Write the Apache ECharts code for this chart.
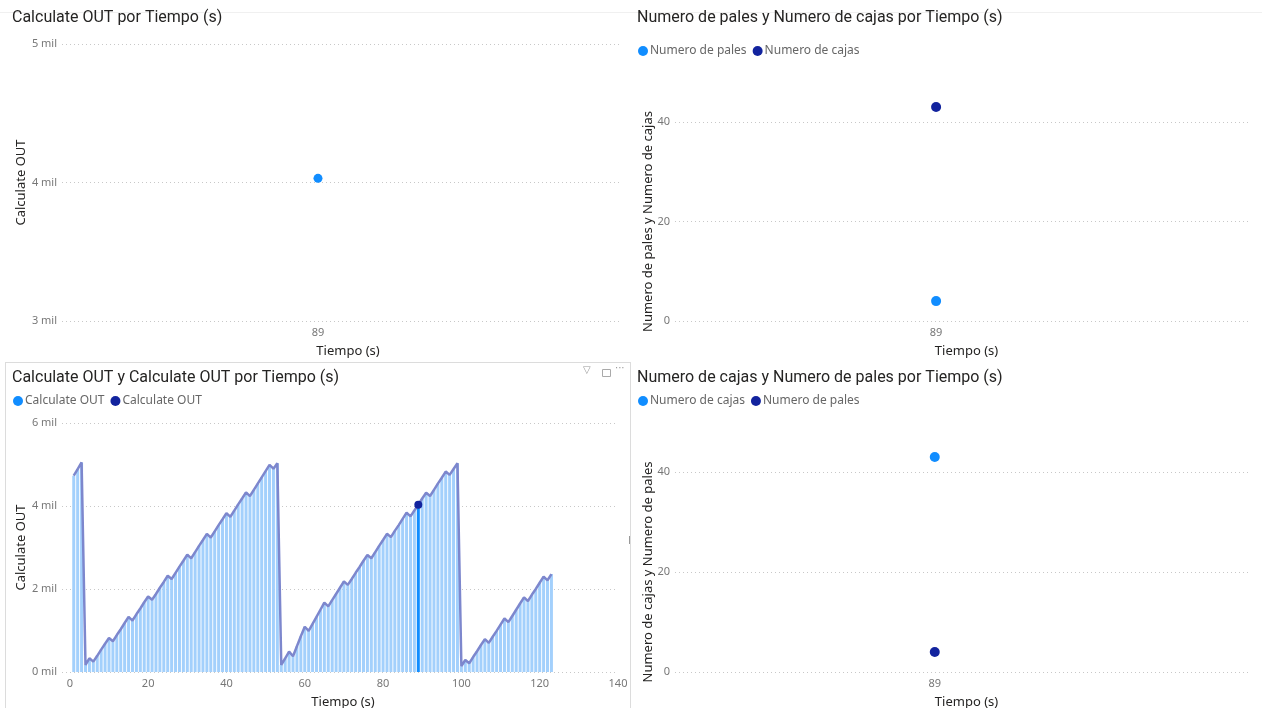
<!DOCTYPE html>
<html>
<head>
<meta charset="utf-8">
<script src="https://cdn.jsdelivr.net/npm/echarts@6/dist/echarts.min.js"></script>
<style>
  html, body { margin: 0; padding: 0; background: #fff; width: 1262px; height: 708px; overflow: hidden; }
  .panel { position: absolute; }
  #topRule { position: absolute; left: 0; top: 12px; width: 1262px; height: 1px; background: #f0f0f0; }
  #blFrame { position: absolute; left: 5px; top: 362px; width: 626px; height: 346px; border: 1px solid #dcdcdc; border-bottom: none; box-sizing: border-box; }
</style>
</head>
<body>
<div id="topRule"></div>
<div id="blFrame"></div>
<div id="tl" class="panel" style="left:0;top:0;width:631px;height:360px"></div>
<div id="tr" class="panel" style="left:631px;top:0;width:631px;height:360px"></div>
<div id="bl" class="panel" style="left:0;top:360px;width:631px;height:348px"></div>
<div id="br" class="panel" style="left:631px;top:360px;width:631px;height:348px"></div>
<script>
// Tiempo (s), one reading per second
const tiempo = [
  1, 2, 3, 4, 5, 6, 7, 8, 9, 10, 11, 12, 13, 14, 15, 16, 17, 18, 19, 20,
  21, 22, 23, 24, 25, 26, 27, 28, 29, 30, 31, 32, 33, 34, 35, 36, 37, 38, 39, 40,
  41, 42, 43, 44, 45, 46, 47, 48, 49, 50, 51, 52, 53, 54, 55, 56, 57, 58, 59, 60,
  61, 62, 63, 64, 65, 66, 67, 68, 69, 70, 71, 72, 73, 74, 75, 76, 77, 78, 79, 80,
  81, 82, 83, 84, 85, 86, 87, 88, 89, 90, 91, 92, 93, 94, 95, 96, 97, 98, 99, 100,
  101, 102, 103, 104, 105, 106, 107, 108, 109, 110, 111, 112, 113, 114, 115, 116, 117, 118, 119, 120,
  121, 122, 123
];

// Calculate OUT for each second
const calculateOut = [
  4730, 4890, 5050, 170, 330, 250, 390, 540, 680, 820,
  740, 890, 1030, 1180, 1330, 1240, 1390, 1530, 1680, 1820,
  1740, 1880, 2030, 2170, 2320, 2240, 2390, 2540, 2680, 2830,
  2740, 2890, 3040, 3180, 3330, 3240, 3390, 3540, 3680, 3830,
  3740, 3890, 4040, 4180, 4330, 4240, 4390, 4540, 4690, 4840,
  4990, 4900, 5030, 170, 330, 490, 380, 620, 860, 1090,
  990, 1160, 1330, 1500, 1670, 1580, 1730, 1880, 2030, 2180,
  2100, 2240, 2390, 2530, 2680, 2820, 2740, 2890, 3040, 3180,
  3330, 3250, 3400, 3540, 3690, 3840, 3750, 3890, 4030, 4180,
  4320, 4240, 4390, 4540, 4680, 4830, 4750, 4890, 5030, 140,
  290, 210, 360, 500, 650, 790, 700, 850, 990, 1140,
  1290, 1200, 1350, 1500, 1650, 1800, 1710, 1860, 2000, 2150,
  2300, 2210, 2360
];

// Selected second and its measures
const tiempoSel = 89;
const calculateOutSel = 4030;
const numeroCajasSel = 43;
const numeroPalesSel = 4;

// Axis tick values
const xTicksTiempo = [0, 20, 40, 60, 80, 100, 120, 140];
const xTicksSel = [89];

const BLUE = '#118DFF';
const NAVY = '#12239E';
const BAR_DIM = '#A3D0FC';
const LINE_DIM = '#7D87CD';
const TITLE_FONT = 'Roboto, "Noto Sans", sans-serif';
const LABEL_FONT = '"Noto Sans", "Open Sans", sans-serif';

function milLabel(v) { return (v / 1000) + ' mil'; }

function baseTitle(text, left) {
  return {
    text: text, left: left, top: 10, padding: 0,
    textStyle: { fontFamily: TITLE_FONT, fontSize: 16, fontWeight: 'normal', color: '#252423' }
  };
}

function baseLegend(left, top, names, colors) {
  return {
    left: left, top: top, padding: 0, itemGap: 6, itemWidth: 10, itemHeight: 10,
    icon: 'circle', selectedMode: false,
    textStyle: { fontFamily: LABEL_FONT, fontSize: 12, color: '#666', padding: [0, 0, 0, -3] },
    data: names.map(function (n, i) { return { name: n, itemStyle: { color: colors[i], opacity: 1 } }; })
  };
}

function grid(left, top, width, height) {
  return { left: left, top: top, width: width, height: height, outerBoundsMode: 'none' };
}

function valueY(min, max, interval, name, nameGap, fmt) {
  return {
    type: 'value', min: min, max: max, interval: interval,
    name: name, nameLocation: 'middle', nameGap: nameGap, nameMoveOverlap: false,
    nameTextStyle: { fontFamily: LABEL_FONT, fontSize: 13, color: '#252423' },
    axisLine: { show: false }, axisTick: { show: false },
    axisLabel: { fontFamily: LABEL_FONT, fontSize: 11, color: '#777', margin: 5, formatter: fmt },
    splitLine: { show: true, lineStyle: { type: [1, 3], color: '#c8c8c8', width: 1 } }
  };
}

// nameShift nudges the "Tiempo (s)" title to the right of the plot centre
function valueX(min, max, ticks, nameGap, margin, nameShift) {
  return {
    type: 'value', min: min, max: max,
    name: 'Tiempo (s)', nameLocation: 'middle', nameGap: nameGap, nameMoveOverlap: false,
    nameTextStyle: { fontFamily: LABEL_FONT, fontSize: 13, color: '#252423', padding: [0, 0, 0, nameShift * 2] },
    axisLine: { show: false }, axisTick: { show: false },
    splitLine: { show: false },
    axisLabel: { customValues: ticks, fontFamily: LABEL_FONT, fontSize: 11, color: '#777', margin: margin }
  };
}

// Calculate OUT at the selected second
const chartTL = echarts.init(document.getElementById('tl'));
chartTL.setOption({
  animation: false,
  title: baseTitle('Calculate OUT por Tiempo (s)', 12),
  grid: grid(62, 44, 558, 277),
  xAxis: valueX(0, 194, xTicksSel, 24, 6, 7),
  yAxis: valueY(3000, 5000, 1000, 'Calculate OUT', 34, milLabel),
  series: [{
    name: 'Calculate OUT', type: 'scatter', symbolSize: 9, clip: false,
    itemStyle: { color: BLUE, opacity: 1 },
    data: [[tiempoSel, calculateOutSel]]
  }]
});

// Numero de pales and Numero de cajas at the selected second
const chartTR = echarts.init(document.getElementById('tr'));
chartTR.setOption({
  animation: false,
  title: baseTitle('Numero de pales y Numero de cajas por Tiempo (s)', 6),
  legend: baseLegend(7, 45, ['Numero de pales', 'Numero de cajas'], [BLUE, NAVY]),
  grid: grid(44, 122, 575, 199),
  xAxis: valueX(0, 196, xTicksSel, 24, 6, 4),
  yAxis: valueY(0, 40, 20, 'Numero de pales y Numero de cajas', 20, null),
  series: [
    { name: 'Numero de pales', type: 'scatter', symbolSize: 10, clip: false,
      itemStyle: { color: BLUE, opacity: 1 }, data: [[tiempoSel, numeroPalesSel]] },
    { name: 'Numero de cajas', type: 'scatter', symbolSize: 10, clip: false,
      itemStyle: { color: NAVY, opacity: 1 }, data: [[tiempoSel, numeroCajasSel]] }
  ]
});

// Calculate OUT over time: columns plus line, second 89 highlighted
const barData = tiempo.map(function (t, i) {
  if (t === tiempoSel) return { value: [t, calculateOut[i]], itemStyle: { color: BLUE } };
  return [t, calculateOut[i]];
});
const lineData = tiempo.map(function (t, i) {
  if (t === tiempoSel) {
    return { value: [t, calculateOut[i]], symbol: 'circle', symbolSize: 8, itemStyle: { color: NAVY } };
  }
  return [t, calculateOut[i]];
});

const chartBL = echarts.init(document.getElementById('bl'));
chartBL.setOption({
  animation: false,
  title: baseTitle('Calculate OUT y Calculate OUT por Tiempo (s)', 12),
  legend: baseLegend(13, 35, ['Calculate OUT', 'Calculate OUT '], [BLUE, NAVY]),
  grid: grid(62, 63, 556, 249),
  xAxis: valueX(-2, 140, xTicksTiempo, 24, 6, 3),
  yAxis: valueY(0, 6000, 2000, 'Calculate OUT', 34, milLabel),
  graphic: [
    { type: 'text', left: 583, top: 5, style: { text: '▽', fontSize: 10, fill: '#999', fontFamily: 'DejaVu Sans' } },
    { type: 'rect', left: 600, top: 7, shape: { width: 8, height: 7 }, style: { fill: 'none', stroke: '#aaa', lineWidth: 1 } },
    { type: 'text', left: 615, top: 3, style: { text: '···', fontSize: 10, fill: '#999', fontFamily: 'DejaVu Sans' } },
    { type: 'rect', left: 629, top: 176, shape: { width: 1, height: 8 }, style: { fill: '#999' } }
  ],
  series: [
    { name: 'Calculate OUT', type: 'bar', barWidth: 3, clip: false,
      itemStyle: { color: BAR_DIM }, data: barData },
    { name: 'Calculate OUT ', type: 'line', symbol: 'none', showSymbol: true, z: 3,
      lineStyle: { color: LINE_DIM, width: 2.5 }, itemStyle: { color: NAVY },
      data: lineData }
  ]
});

// Numero de cajas and Numero de pales at the selected second
const chartBR = echarts.init(document.getElementById('br'));
chartBR.setOption({
  animation: false,
  title: baseTitle('Numero de cajas y Numero de pales por Tiempo (s)', 6),
  legend: baseLegend(7, 35, ['Numero de cajas', 'Numero de pales'], [BLUE, NAVY]),
  grid: grid(44, 112, 575, 200),
  xAxis: valueX(0, 197, xTicksSel, 24, 6, 4),
  yAxis: valueY(0, 40, 20, 'Numero de cajas y Numero de pales', 20, null),
  series: [
    { name: 'Numero de cajas', type: 'scatter', symbolSize: 10, clip: false,
      itemStyle: { color: BLUE, opacity: 1 }, data: [[tiempoSel, numeroCajasSel]] },
    { name: 'Numero de pales', type: 'scatter', symbolSize: 10, clip: false,
      itemStyle: { color: NAVY, opacity: 1 }, data: [[tiempoSel, numeroPalesSel]] }
  ]
});
</script>
</body>
</html>
